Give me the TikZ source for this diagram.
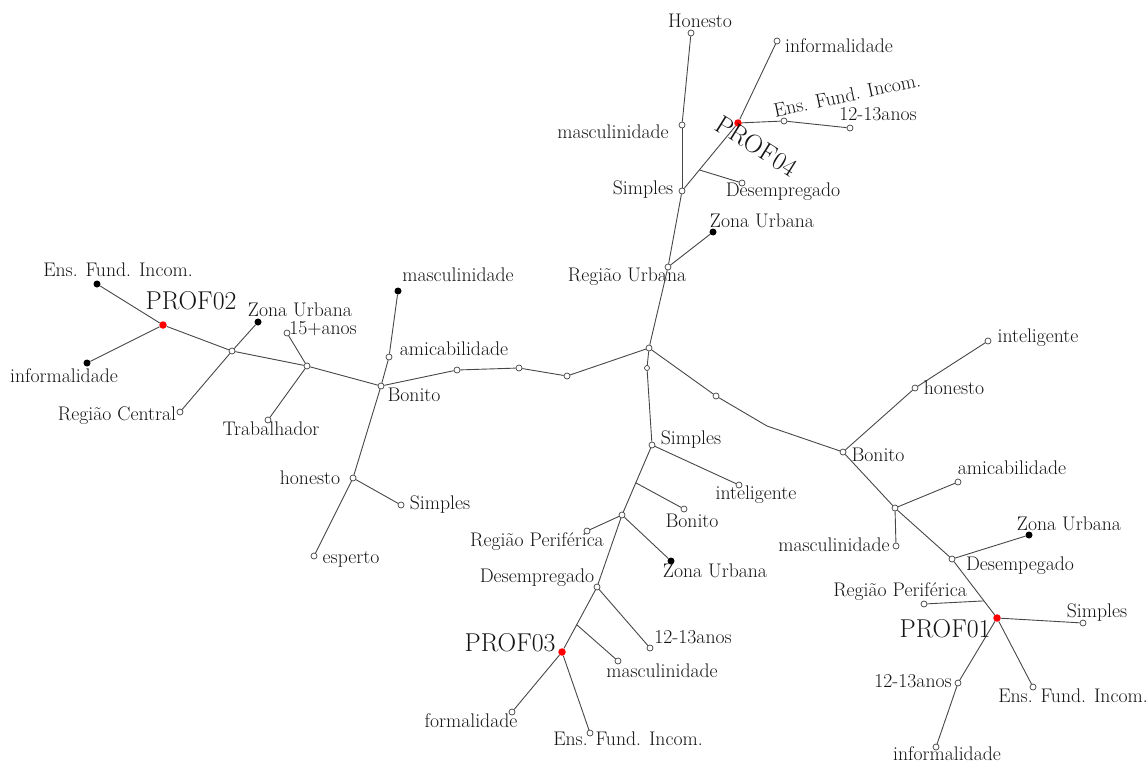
\documentclass[tikz,border=0pt]{standalone}
\usepackage{fontspec}
\usetikzlibrary{calc}
\tikzset{
  ed/.style={draw=black!72, line width=0.9pt},
  op/.style={circle, draw=black!75, line width=0.7pt, fill=white, inner sep=0pt, minimum size=6pt},
  bk/.style={circle, fill=black, inner sep=0pt, minimum size=7pt},
  rd/.style={circle, fill=red, inner sep=0pt, minimum size=7.5pt},
  lbl/.style={font=\fontsize{19.7}{22}\selectfont, inner sep=0pt, text=black!92},
  big/.style={font=\fontsize{25.8}{28}\selectfont, inner sep=0pt, text=black!92}
}
\begin{document}
\begin{tikzpicture}[x=1pt,y=-1pt]
\useasboundingbox (0,0) rectangle (1147,763);
% ---------- nodes ----------
% PROF02 cluster
\node[bk] (e2) at (97,284) {};
\node[rd] (p2) at (163,325) {};
\node[bk] (i2) at (87,363) {};
\node[op] (j2a) at (232,351) {};
\node[bk] (z2) at (258,322) {};
\node[op] (rc) at (180,412) {};
\node[op] (j2b) at (307,366) {};
\node[op] (a15) at (287,333) {};
\node[op] (tr) at (268,420) {};
\node[op] (bo1) at (381,386) {};
\node[op] (am1) at (389,357) {};
\node[bk] (ma1) at (398,291) {};
\node[op] (h1) at (353,478) {};
\node[op] (s1) at (401,505) {};
\node[op] (es) at (314,556) {};
\node[op] (m1) at (457,370) {};
\node[op] (m2) at (519,368) {};
\node[op] (m3) at (567,376) {};
\node[op] (c) at (649,348) {};
% PROF04 cluster
\node[op] (ru) at (668,267) {};
\node[bk] (z4) at (713,232) {};
\node[op] (s4) at (682,191) {};
\node[op] (ma4) at (682,125) {};
\node[op] (ho4) at (691,33) {};
\node[rd] (p4) at (738,123) {};
\coordinate (b4) at ($(s4)!0.31!(p4)$);
\node[op] (de4) at (742,183) {};
\node[op] (inf4) at (777,41) {};
\node[op] (en4) at (784,121) {};
\node[op] (a4) at (850,128) {};
% PROF03 cluster
\node[op, minimum size=5pt] (c2) at (647,368) {};
\node[op] (s3) at (652,445) {};
\node[op] (in3) at (739,485) {};
\node[op] (j3) at (622,515) {};
\coordinate (b3) at ($(s3)!0.54!(j3)$);
\node[op] (bo3) at (684,509) {};
\node[op] (rp3) at (587,531) {};
\node[bk] (z3) at (671,561) {};
\node[op] (de3) at (597,587) {};
\node[op] (a3) at (650,648) {};
\node[rd] (p3) at (562,652) {};
\coordinate (b3b) at ($(de3)!0.58!(p3)$);
\node[op] (ma3) at (618,661) {};
\node[op] (fo3) at (512,712) {};
\node[op] (en3) at (590,733) {};
% PROF01 cluster
\node[op] (r1) at (716,396) {};
\coordinate (bend) at (767,426);
\node[op] (bo5) at (843,452) {};
\node[op] (ho5) at (915,388) {};
\node[op] (in5) at (988,341) {};
\node[op] (j5) at (895,508) {};
\node[op] (am5) at (958,482) {};
\node[op] (ma5) at (896,546) {};
\node[op] (de5) at (952,559) {};
\node[bk] (z5) at (1029,535) {};
\node[rd] (p1) at (997,618) {};
\coordinate (b5) at ($(de5)!0.71!(p1)$);
\node[op] (rp5) at (924,604) {};
\node[op] (s5) at (1083,623) {};
\node[op] (en5) at (1033,687) {};
\node[op] (a5) at (958,683) {};
\node[op] (inf5) at (936,747) {};
% ---------- edges ----------
\draw[ed] (e2) -- (p2);
\draw[ed] (p2) -- (i2);
\draw[ed] (p2) -- (j2a);
\draw[ed] (j2a) -- (z2);
\draw[ed] (j2a) -- (rc);
\draw[ed] (j2a) -- (j2b);
\draw[ed] (j2b) -- (a15);
\draw[ed] (j2b) -- (tr);
\draw[ed] (j2b) -- (bo1);
\draw[ed] (bo1) -- (am1);
\draw[ed] (am1) -- (ma1);
\draw[ed] (bo1) -- (h1);
\draw[ed] (h1) -- (s1);
\draw[ed] (h1) -- (es);
\draw[ed] (bo1) -- (m1);
\draw[ed] (m1) -- (m2);
\draw[ed] (m2) -- (m3);
\draw[ed] (m3) -- (c);
\draw[ed] (c) -- (ru);
\draw[ed] (ru) -- (z4);
\draw[ed] (ru) -- (s4);
\draw[ed] (s4) -- (ma4);
\draw[ed] (ma4) -- (ho4);
\draw[ed] (s4) -- (p4);
\draw[ed] (b4) -- (de4);
\draw[ed] (p4) -- (inf4);
\draw[ed] (p4) -- (en4);
\draw[ed] (en4) -- (a4);
\draw[ed] (c) -- (c2);
\draw[ed] (c2) -- (s3);
\draw[ed] (s3) -- (in3);
\draw[ed] (s3) -- (j3);
\draw[ed] (b3) -- (bo3);
\draw[ed] (j3) -- (rp3);
\draw[ed] (j3) -- (z3);
\draw[ed] (j3) -- (de3);
\draw[ed] (de3) -- (a3);
\draw[ed] (de3) -- (p3);
\draw[ed] (b3b) -- (ma3);
\draw[ed] (p3) -- (fo3);
\draw[ed] (p3) -- (en3);
\draw[ed] (c) -- (r1);
\draw[ed] (r1) -- (bend) -- (bo5);
\draw[ed] (bo5) -- (ho5);
\draw[ed] (ho5) -- (in5);
\draw[ed] (bo5) -- (j5);
\draw[ed] (j5) -- (am5);
\draw[ed] (j5) -- (ma5);
\draw[ed] (j5) -- (de5);
\draw[ed] (de5) -- (z5);
\draw[ed] (de5) -- (p1);
\draw[ed] (b5) -- (rp5);
\draw[ed] (p1) -- (s5);
\draw[ed] (p1) -- (en5);
\draw[ed] (p1) -- (a5);
\draw[ed] (a5) -- (inf5);
% ---------- labels ----------
\node[lbl] (t1) at (118,270) {Ens. Fund. Incom.};
\node[big] (t2) at (191,301) {PROF02};
\node[lbl] (t3) at (64,376) {informalidade};
\node[lbl] (t4) at (300,310) {Zona Urbana};
\node[lbl] (t5) at (117,416) {Região Central};
\node[lbl] (t6) at (323,329) {15+anos};
\node[lbl] (t7) at (271,429) {Trabalhador};
\node[lbl] (t8) at (414,395) {Bonito};
\node[lbl] (t9) at (454,349) {amicabilidade};
\node[lbl] (t10) at (458,275) {masculinidade};
\node[lbl] (t11) at (310,478) {honesto};
\node[lbl] (t12) at (440,505) {Simples};
\node[lbl] (t13) at (351,559) {esperto};
\node[lbl] (t14) at (627,277) {Região Urbana};
\node[lbl] (t15) at (762,221) {Zona Urbana};
\node[lbl] (t16) at (643,190) {Simples};
\node[lbl] (t17) at (613,132) {masculinidade};
\node[lbl] (t18) at (700,21) {Honesto};
\node[lbl] (t19) at (839,46) {informalidade};
\node[lbl] (t20) at (783,192) {Desempregado};
\node[lbl] (t21) at (878,114) {12-13anos};
\node[lbl, rotate=12] (t22) at (847,95) {Ens. Fund. Incom.};
\node[big, rotate=-32] (t23) at (757,146) {PROF04};
\node[lbl] (t24) at (691,440) {Simples};
\node[lbl] (t25) at (756,495) {inteligente};
\node[lbl] (t26) at (692,521) {Bonito};
\node[lbl] (t27) at (537,542) {Região Periférica};
\node[lbl] (t28) at (715,571) {Zona Urbana};
\node[lbl] (t29) at (537,578) {Desempregado};
\node[lbl] (t30) at (693,637) {12-13anos};
\node[big] (t31) at (510,643) {PROF03};
\node[lbl] (t32) at (662,671) {masculinidade};
\node[lbl] (t33) at (471,721) {formalidade};
\node[lbl] (t34) at (628,739) {Ens. Fund. Incom.};
\node[lbl] (t35) at (1038,338) {inteligente};
\node[lbl] (t36) at (954,388) {honesto};
\node[lbl] (t37) at (878,455) {Bonito};
\node[lbl] (t38) at (1012,468) {amicabilidade};
\node[lbl] (t39) at (834,545) {masculinidade};
\node[lbl] (t40) at (1069,524) {Zona Urbana};
\node[lbl] (t41) at (1020,566) {Desempegado};
\node[lbl] (t42) at (900,592) {Região Periférica};
\node[big] (t43) at (945,629) {PROF01};
\node[lbl] (t44) at (1097,613) {Simples};
\node[lbl] (t45) at (913,681) {12-13anos};
\node[lbl] (t46) at (1073,696) {Ens. Fund. Incom.};
\node[lbl] (t47) at (947,754) {informalidade};
\end{tikzpicture}
\end{document}
